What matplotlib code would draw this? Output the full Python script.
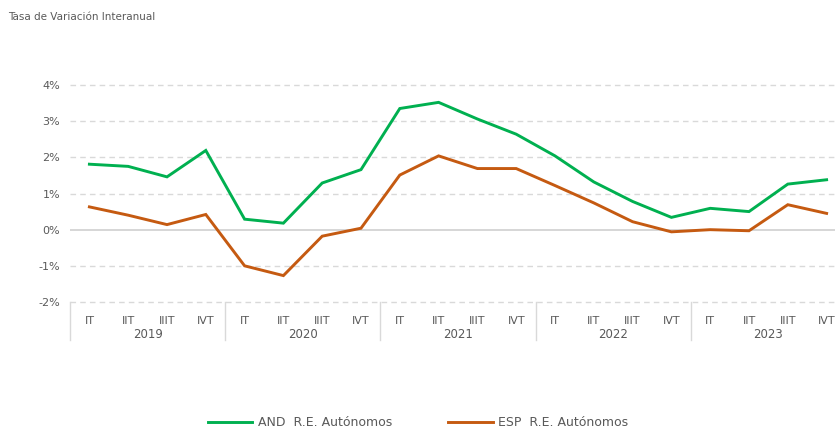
import matplotlib.pyplot as plt
from matplotlib.transforms import blended_transform_factory

years = ["2019", "2020", "2021", "2022", "2023"]
quarters = ["IT", "IIT", "IIIT", "IVT"]
and_autonomos = [1.81, 1.75, 1.46, 2.19,
                 0.29, 0.18, 1.29, 1.66,
                 3.35, 3.52, 3.06, 2.64,
                 2.04, 1.32, 0.78, 0.34,
                 0.59, 0.50, 1.26, 1.38]
esp_autonomos = [0.63, 0.40, 0.14, 0.42,
                 -1.00, -1.27, -0.18, 0.04,
                 1.51, 2.04, 1.69, 1.69,
                 1.22, 0.74, 0.22, -0.06,
                 0.00, -0.03, 0.69, 0.45]
y_ticks = [-2, -1, 0, 1, 2, 3, 4]

plt.rcParams["font.family"] = ["DejaVu Sans"]
text_color = "#595959"
grid_color = "#D9D9D9"
green = "#00B050"
orange = "#C55A11"

fig = plt.figure(figsize=(8.35, 4.28), dpi=100)
ax = fig.add_axes([70 / 835, 126 / 428, 776 / 835, 217 / 428])

x = list(range(len(and_autonomos)))
ax.plot(x, and_autonomos, color=green, lw=2.1, solid_joinstyle="miter", zorder=3)
ax.plot(x, esp_autonomos, color=orange, lw=2.1, solid_joinstyle="miter", zorder=3)

ax.set_xlim(-0.5, len(x) - 0.5)
ax.set_ylim(-2, 4)
ax.set_yticks(y_ticks)
ax.set_yticklabels([f"{v}%" for v in y_ticks])
ax.tick_params(axis="y", length=0, pad=7, labelsize=8, labelcolor=text_color)
ax.set_xticks([])
for s in ax.spines.values():
    s.set_visible(False)
for v in y_ticks:
    if v == 0:
        ax.axhline(v, color="#D0D0D0", lw=1.2, zorder=1)
    else:
        ax.axhline(v, color=grid_color, lw=1, ls=(0, (4, 3)), zorder=1,
                   clip_on=False)

# multi-level category axis
tr = blended_transform_factory(ax.transData, ax.transAxes)
for i in range(len(years) + 1):
    ax.plot([i * 4 - 0.5, i * 4 - 0.5], [0, -0.175], transform=tr,
            color=grid_color, lw=1, clip_on=False)
for i, year in enumerate(years):
    for j, q in enumerate(quarters):
        ax.text(i * 4 + j, -0.088, q, transform=tr, ha="center", va="center",
                fontsize=8, color=text_color)
    ax.text(i * 4 + 1.5, -0.152, year, transform=tr, ha="center", va="center",
            fontsize=8.5, color=text_color)

fig.text(8 / 835, 1 - 17 / 428, "Tasa de Variación Interanual", ha="left",
         va="center", fontsize=7.5, color=text_color)

# legend
ly = 1 - 422 / 428
fig.add_artist(plt.Line2D([208 / 835, 252 / 835], [ly, ly], color=green, lw=2.1))
fig.text(258 / 835, ly, "AND  R.E. Autónomos", ha="left", va="center",
         fontsize=9, color=text_color)
fig.add_artist(plt.Line2D([448 / 835, 493 / 835], [ly, ly], color=orange, lw=2.1))
fig.text(498 / 835, ly, "ESP  R.E. Autónomos", ha="left", va="center",
         fontsize=9, color=text_color)

fig.savefig("out.png", dpi=100)
